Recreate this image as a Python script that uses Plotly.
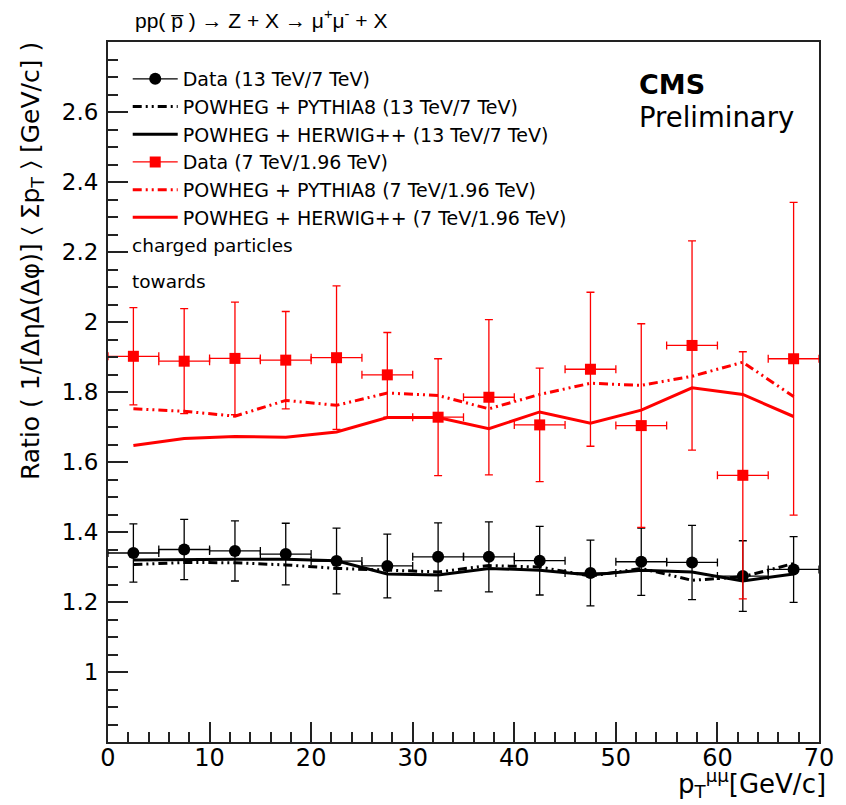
import plotly.graph_objects as go

# ---------------- data ----------------
pt_bins = [2.5, 7.5, 12.5, 17.5, 22.5, 27.5, 32.5, 37.5, 42.5, 47.5, 52.5, 57.5, 62.5, 67.5]
pt_halfwidth = [2.5] * 14

data_13_7 = [1.340, 1.350, 1.346, 1.337, 1.317, 1.303, 1.329, 1.329, 1.318, 1.283, 1.315, 1.313, 1.274, 1.293]
data_13_7_err = [0.083, 0.086, 0.086, 0.088, 0.094, 0.091, 0.097, 0.100, 0.098, 0.094, 0.096, 0.106, 0.101, 0.094]
pythia_13_7 = [1.307, 1.313, 1.312, 1.306, 1.296, 1.291, 1.286, 1.304, 1.300, 1.274, 1.296, 1.262, 1.272, 1.310]
herwig_13_7 = [1.320, 1.322, 1.322, 1.322, 1.318, 1.280, 1.277, 1.296, 1.291, 1.277, 1.291, 1.286, 1.260, 1.280]

data_7_196 = [1.902, 1.888, 1.896, 1.891, 1.898, 1.849, 1.728, 1.785, 1.706, 1.865, 1.704, 1.933, 1.562, 1.895]
data_7_196_err = [0.139, 0.150, 0.161, 0.139, 0.205, 0.121, 0.167, 0.222, 0.162, 0.220, 0.291, 0.299, 0.353, 0.447]
pythia_7_196 = [1.752, 1.745, 1.731, 1.776, 1.762, 1.797, 1.790, 1.752, 1.793, 1.825, 1.819, 1.845, 1.885, 1.787]
herwig_7_196 = [1.647, 1.667, 1.673, 1.671, 1.686, 1.727, 1.727, 1.695, 1.743, 1.711, 1.748, 1.812, 1.793, 1.730]

legend_names = [
    "Data (13 TeV/7 TeV)",
    "POWHEG + PYTHIA8 (13 TeV/7 TeV)",
    "POWHEG + HERWIG++ (13 TeV/7 TeV)",
    "Data (7 TeV/1.96 TeV)",
    "POWHEG + PYTHIA8 (7 TeV/1.96 TeV)",
    "POWHEG + HERWIG++ (7 TeV/1.96 TeV)",
]

y_tickvals = [1.0, 1.2, 1.4, 1.6, 1.8, 2.0, 2.2, 2.4, 2.6]
y_ticktext = ["1", "1.2", "1.4", "1.6", "1.8", "2", "2.2", "2.4", "2.6"]
x_tickvals = [0, 10, 20, 30, 40, 50, 60, 70]
x_ticktext = ["0", "10", "20", "30", "40", "50", "60", "70"]

# ---------------- style ----------------
FONT = "DejaVu Sans, Liberation Sans, Arial, sans-serif"
BLACK = "#000000"
RED = "#ff0000"
DASH = "9px,4px,2px,4px,2px,4px"
AXC = "#222"

fig = go.Figure()

def data_trace(y, err, color, symbol, size, name):
    fig.add_trace(go.Scatter(
        x=pt_bins, y=y, mode="markers", showlegend=False,
        marker=dict(color=color, symbol=symbol, size=size),
        error_y=dict(type="data", array=err, color=color, thickness=1.3, width=4),
        error_x=dict(type="data", array=pt_halfwidth, color=color, thickness=1.3, width=4),
    ))
    # legend entry (line + marker)
    fig.add_trace(go.Scatter(
        x=[None], y=[None], mode="lines+markers", name=name,
        line=dict(color=color, width=1.3),
        marker=dict(color=color, symbol=symbol, size=size),
    ))

def line_trace(y, color, dash, width, name):
    fig.add_trace(go.Scatter(
        x=pt_bins, y=y, mode="lines", name=name,
        line=dict(color=color, dash=dash, width=width),
    ))

data_trace(data_13_7, data_13_7_err, BLACK, "circle", 12, legend_names[0])
line_trace(pythia_13_7, BLACK, DASH, 3, legend_names[1])
line_trace(herwig_13_7, BLACK, "solid", 3, legend_names[2])
data_trace(data_7_196, data_7_196_err, RED, "square", 11, legend_names[3])
line_trace(pythia_7_196, RED, DASH, 3, legend_names[4])
line_trace(herwig_7_196, RED, "solid", 3, legend_names[5])

W, H = 846, 805
L, R, T, B = 108, 17, 42, 63
pw, ph = W - L - R, H - T - B

def px(xp):
    return (xp - L) / pw

def py(yp):
    return (H - B - yp) / ph

fig.update_layout(
    width=W, height=H,
    margin=dict(l=L, r=R, t=T, b=B, pad=0),
    paper_bgcolor="white", plot_bgcolor="white",
    font=dict(family=FONT, color="black"),
    showlegend=True,
    legend=dict(
        x=px(128), y=py(60), xanchor="left", yanchor="top",
        bgcolor="rgba(0,0,0,0)", borderwidth=0,
        font=dict(family=FONT, size=19, color="black"),
        tracegroupgap=0, itemwidth=45,
    ),
    xaxis=dict(
        range=[0, 70], showgrid=False, zeroline=False,
        showline=True, linecolor=AXC, linewidth=2, mirror=True,
        ticks="inside", ticklen=20, tickwidth=1.5, tickcolor=AXC,
        tickmode="array", tickvals=x_tickvals, ticktext=x_ticktext,
        tickfont=dict(family=FONT, size=24), ticklabelstandoff=-7,
        minor=dict(ticks="inside", ticklen=10, tickwidth=1.5, tickcolor=AXC, dtick=2, tick0=0),
    ),
    yaxis=dict(
        range=[0.8, 2.8], showgrid=False, zeroline=False,
        showline=True, linecolor=AXC, linewidth=2, mirror=True,
        ticks="inside", ticklen=20, tickwidth=1.5, tickcolor=AXC,
        tickmode="array", tickvals=y_tickvals, ticktext=y_ticktext,
        tickfont=dict(family=FONT, size=23), ticklabelstandoff=3,
        minor=dict(ticks="inside", ticklen=10, tickwidth=1.5, tickcolor=AXC, dtick=0.05, tick0=0.8),
    ),
)

ann = [
    dict(text="pp( p\u0305 ) \u2192 Z + X \u2192 \u03bc<sup>+</sup>\u03bc<sup>-</sup> + X",
         x=px(133), y=py(19), xanchor="left", yanchor="middle",
         font=dict(family="Liberation Sans Narrow, Liberation Sans, Arial", size=21)),
    dict(text="Ratio ( 1/[\u0394\u03b7\u0394(\u0394\u03c6)] \u2329 \u03a3p<sub>T</sub> \u232a [GeV/c] )",
         x=px(31), y=py(40), xanchor="center", yanchor="top", textangle=-90,
         font=dict(family=FONT, size=25)),
    dict(text="p<sub>T</sub><sup>\u03bc\u03bc</sup>[GeV/c]",
         x=px(838), y=py(783), xanchor="right", yanchor="middle",
         font=dict(family=FONT, size=26)),
    dict(text="charged particles", x=px(130), y=py(245), xanchor="left", yanchor="middle",
         font=dict(family=FONT, size=18.5)),
    dict(text="towards", x=px(130), y=py(281), xanchor="left", yanchor="middle",
         font=dict(family=FONT, size=18.5)),
    dict(text="<b>CMS</b>", x=px(644), y=py(84), xanchor="left", yanchor="middle",
         font=dict(family=FONT, size=27)),
    dict(text="Preliminary", x=px(644), y=py(117), xanchor="left", yanchor="middle",
         font=dict(family=FONT, size=27.5)),
]
for a in ann:
    a.update(xref="paper", yref="paper", showarrow=False)
fig.update_layout(annotations=ann)

fig.write_html("out.html")
